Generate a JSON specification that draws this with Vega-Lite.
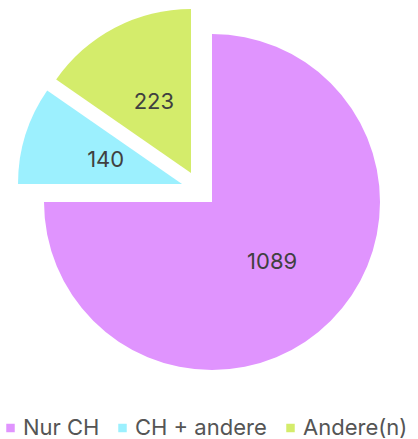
{
  "$schema": "https://vega.github.io/schema/vega-lite/v6.json",
  "width": 412,
  "height": 404,
  "autosize": {"type": "none"},
  "padding": {"left": 6, "top": 0, "right": 0, "bottom": 35},
  "background": "white",
  "config": {"view": {"stroke": null}},
  "data": {
    "values": [
      {"cat": "Nur CH", "n": 1089, "o": 1},
      {"cat": "CH + andere", "n": 140, "o": 2},
      {"cat": "Andere(n)", "n": 223, "o": 3}
    ]
  },
  "encoding": {
    "theta": {"field": "n", "type": "quantitative", "stack": true},
    "order": {"field": "o", "type": "quantitative"},
    "color": {
      "field": "cat",
      "type": "nominal",
      "scale": {
        "domain": ["Nur CH", "CH + andere", "Andere(n)"],
        "range": ["#e094fe", "#9cf0fe", "#d4ec6b"]
      },
      "legend": {
        "orient": "none",
        "legendX": -6.5,
        "legendY": 417,
        "direction": "horizontal",
        "title": null,
        "padding": 0,
        "symbolType": "square",
        "symbolSize": 72,
        "symbolStrokeWidth": 0,
        "labelFont": "Inter",
        "labelFontSize": 22,
        "labelColor": "#555555",
        "labelOffset": 1.5,
        "columnPadding": 12
      }
    }
  },
  "layer": [
    {
      "mark": {"type": "arc", "outerRadius": 168},
      "encoding": {
        "opacity": {"condition": {"test": "datum.cat === 'Nur CH'", "value": 1}, "value": 0}
      }
    },
    {
      "mark": {"type": "arc", "outerRadius": 164, "xOffset": -30, "yOffset": -18},
      "encoding": {
        "opacity": {"condition": {"test": "datum.cat === 'CH + andere'", "value": 1}, "value": 0}
      }
    },
    {
      "mark": {"type": "arc", "outerRadius": 164, "xOffset": -21, "yOffset": -29},
      "encoding": {
        "opacity": {"condition": {"test": "datum.cat === 'Andere(n)'", "value": 1}, "value": 0}
      }
    },
    {
      "mark": {"type": "text", "radius": 85, "font": "Inter", "fontSize": 22, "align": "center", "baseline": "middle"},
      "encoding": {
        "text": {"field": "n", "type": "quantitative", "format": "d"},
        "color": {"value": "#404040"},
        "opacity": {"condition": {"test": "datum.cat === 'Nur CH'", "value": 1}, "value": 0}
      }
    },
    {
      "mark": {"type": "text", "radius": 80, "xOffset": -30, "yOffset": -18, "font": "Inter", "fontSize": 22, "align": "center", "baseline": "middle"},
      "encoding": {
        "text": {"field": "n", "type": "quantitative", "format": "d"},
        "color": {"value": "#404040"},
        "opacity": {"condition": {"test": "datum.cat === 'CH + andere'", "value": 1}, "value": 0}
      }
    },
    {
      "mark": {"type": "text", "radius": 80, "xOffset": -21, "yOffset": -29, "font": "Inter", "fontSize": 22, "align": "center", "baseline": "middle"},
      "encoding": {
        "text": {"field": "n", "type": "quantitative", "format": "d"},
        "color": {"value": "#404040"},
        "opacity": {"condition": {"test": "datum.cat === 'Andere(n)'", "value": 1}, "value": 0}
      }
    }
  ]
}
